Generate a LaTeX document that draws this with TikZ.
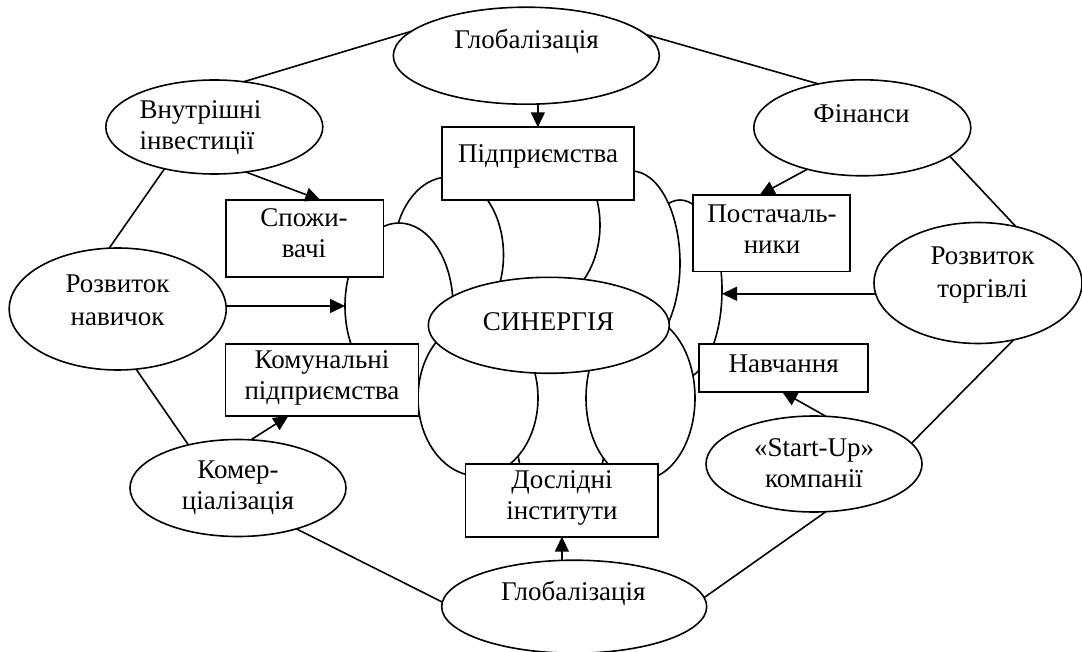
\documentclass[tikz,border=0pt]{standalone}
\usepackage{fontspec}
\setmainfont{Liberation Serif}
\usetikzlibrary{shapes.geometric,arrows.meta}
\begin{document}
\begin{tikzpicture}[x=1pt,y=-1pt,
  oval/.style={ellipse,draw,fill=white,line width=1.6pt,inner sep=0pt,outer sep=0pt},
  petal/.style={ellipse,draw,fill=white,line width=1.6pt,inner sep=0pt,outer sep=0pt},
  box/.style={rectangle,draw,fill=white,line width=1.6pt,inner sep=0pt,outer sep=0pt},
  txt/.style={inner sep=0pt,align=center,font=\fontsize{27}{31}\selectfont},
  txtw/.style={inner sep=0pt,align=center,font=\fontsize{27}{33}\selectfont},
  conn/.style={line width=1.6pt},
  arr/.style={line width=1.6pt,-{Triangle[length=15pt,width=14pt]}}]
\useasboundingbox (0,0) rectangle (1082,652);

% petals of the central flower (white filled, layered)
\node[petal,minimum width=84pt,minimum height=180pt] (p5) at (680,290) {};
\node[petal,minimum width=97pt,minimum height=184pt] (p3) at (631.5,263) {};
\node[petal,minimum width=120pt,minimum height=160pt] (p1b) at (540,225) {};
\node[petal,minimum width=110pt,minimum height=156pt] (p1) at (448.5,255) {};
\node[petal,minimum width=108pt,minimum height=166pt] (p2) at (399,306) {};
\node[petal,minimum width=90pt,minimum height=170pt] (p7) at (561,430) {};
\node[petal,minimum width=120pt,minimum height=156pt] (p4) at (478,398) {};
\node[petal,minimum width=109pt,minimum height=164pt] (p6) at (640.5,398) {};

% centre
\node[oval,minimum width=241pt,minimum height=96pt] (syn) at (548.8,325.3) {};
\node[txt] (tsyn) at (548.5,322) {СИНЕРГІЯ};

% rectangles
\node[box,minimum width=192.3pt,minimum height=72.7pt] (pp) at (537.85,163.65) {};
\node[txt] (tpp) at (538,156) {Підприємства};
\node[box,minimum width=157.3pt,minimum height=77.3pt] (sp) at (304.65,238.65) {};
\node[txt] (tsp) at (304,233.3) {Спожи-\\вачі};
\node[box,minimum width=157.2pt,minimum height=76.7pt] (pc) at (771.4,233.35) {};
\node[txt] (tpc) at (772,229.2) {Постачаль-\\ники};
\node[box,minimum width=192.9pt,minimum height=72pt] (ku) at (321.95,380) {};
\node[txt] (tku) at (322,377.7) {Комунальні\\підприємства};
\node[box,minimum width=168.7pt,minimum height=47.7pt] (nv) at (783.35,367.85) {};
\node[txt] (tnv) at (783.7,363.3) {Навчання};
\node[box,minimum width=192.6pt,minimum height=72.7pt] (di) at (561.9,500.35) {};
\node[txt] (tdi) at (562,497.5) {Дослідні\\інститути};

% outer ellipses
\node[oval,minimum width=266pt,minimum height=97pt] (g1) at (526.3,55.7) {};
\node[txt] (tg1) at (526.5,41.7) {Глобалізація};
\node[oval,minimum width=217pt,minimum height=94pt] (vi) at (214.3,127) {};
\node[txt,align=left,anchor=west] (tvi) at (139.3,127.7) {Внутрішні\\інвестиції};
\node[oval,minimum width=217pt,minimum height=122pt] (rn) at (117.7,309) {};
\node[txtw] (trn) at (117.5,300) {Розвиток\\навичок};
\node[oval,minimum width=216pt,minimum height=97pt] (km) at (238,488) {};
\node[txt] (tkm) at (238,487.5) {Комер-\\ціалізація};
\node[oval,minimum width=265pt,minimum height=93pt] (g2) at (574.2,606.7) {};
\node[txt] (tg2) at (573.3,593.3) {Глобалізація};
\node[oval,minimum width=216pt,minimum height=96pt] (su) at (814,464) {};
\node[txt] (tsu) at (814,463.3) {«Start-Up»\\компанії};
\node[oval,minimum width=208pt,minimum height=121pt] (rt) at (978,283) {};
\node[txtw] (trt) at (982.5,275) {Розвиток\\торгівлі};
\node[oval,minimum width=217pt,minimum height=96pt] (fi) at (862.3,127.8) {};
\node[txt] (tfi) at (861.5,113.3) {Фінанси};

% arrows
\draw[arr] (g1.south -| pp.north) -- (pp.north);
\draw[arr] (vi.-55) -- (sp.68);
\draw[arr] (p2.west -| rn.east) -- (p2.west);
\draw[arr] (fi.-143) -- (pc.107);
\draw[arr] (rt.186) -- (rt.186 -| p5.east);
\draw[arr] (su.76) -- (nv.-93);
\draw[arr] (km.75) -- (ku.-133);
\draw[arr] (di.south |- g2.north) -- (di.south);

% plain connectors of the outer ring
\draw[conn] (g1.168) -- (vi.57);
\draw[conn] (g1.10) -- (fi.135);
\draw[conn] (vi.-140) -- (rn.98);
\draw[conn] (fi.-18) -- (rt.56);
\draw[conn] (rn.-73) -- (km.139);
\draw[conn] (km.-35) -- (g2.178);
\draw[conn] (rt.-58) -- (su.12);
\draw[conn] (su.-76) -- (g2.4);
\end{tikzpicture}
\end{document}
